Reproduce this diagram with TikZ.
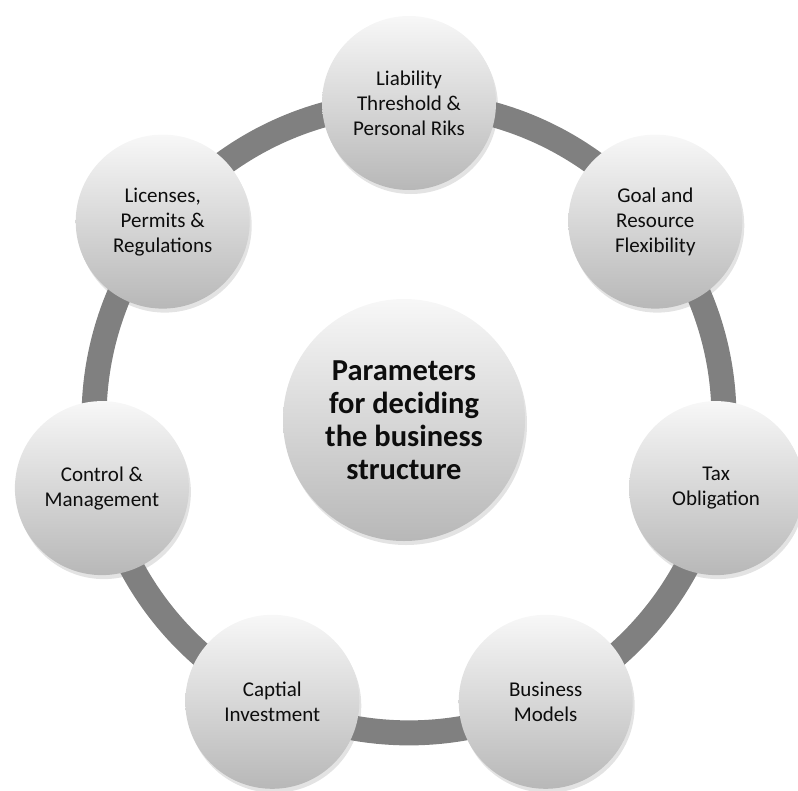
\documentclass[tikz,border=0pt]{standalone}
\usepackage{fontspec}
\setmainfont{Carlito}
\usetikzlibrary{shadows,backgrounds}
\begin{document}
\begin{tikzpicture}[x=1pt,y=-1pt,
  bubble/.style={circle, minimum size=174pt, inner sep=0pt, align=center,
     top color=black!3, bottom color=black!28,
     font=\fontsize{21}{25}\selectfont, text=black!95,
     drop shadow={shadow xshift=2pt, shadow yshift=-4pt, opacity=0.22}},
  hub/.style={bubble, minimum size=242pt,
     font=\fontsize{30.5}{33}\selectfont\bfseries},
  band/.style={line width=25pt, draw=black!50},
  arc/.style={bend left=25.714, looseness=0.896}]
  \useasboundingbox (0,0) rectangle (798,790);
  \clip (0,0) rectangle (798,790);

  % hub and the seven parameters around it
  \node[hub]    (hub)  at (404,420) {Parameters\\for deciding\\the business\\structure};
  \node[bubble] (liab) at (409,103)   {Liability\\Threshold \&\\Personal Riks};
  \node[bubble] (goal) at (655.3,221.6) {Goal and\\Resource\\Flexibility};
  \node[bubble] (tax)  at (716.1,488.1) {Tax\\Obligation};
  \node[bubble] (biz)  at (545.7,701.8) {Business\\Models};
  \node[bubble] (cap)  at (272.3,701.8) {Captial\\Investment};
  \node[bubble] (ctrl) at (101.9,488.1) {Control \&\\Management};
  \node[bubble] (lic)  at (162.7,221.6) {Licenses,\\Permits \&\\Regulations};

  % ring joining neighbouring parameters
  \begin{scope}[on background layer]
    \draw[band] (liab.center) to[arc] (goal.center);
    \draw[band] (goal.center) to[arc] (tax.center);
    \draw[band] (tax.center)  to[arc] (biz.center);
    \draw[band] (biz.center)  to[arc] (cap.center);
    \draw[band] (cap.center)  to[arc] (ctrl.center);
    \draw[band] (ctrl.center) to[arc] (lic.center);
    \draw[band] (lic.center)  to[arc] (liab.center);
  \end{scope}
\end{tikzpicture}
\end{document}
